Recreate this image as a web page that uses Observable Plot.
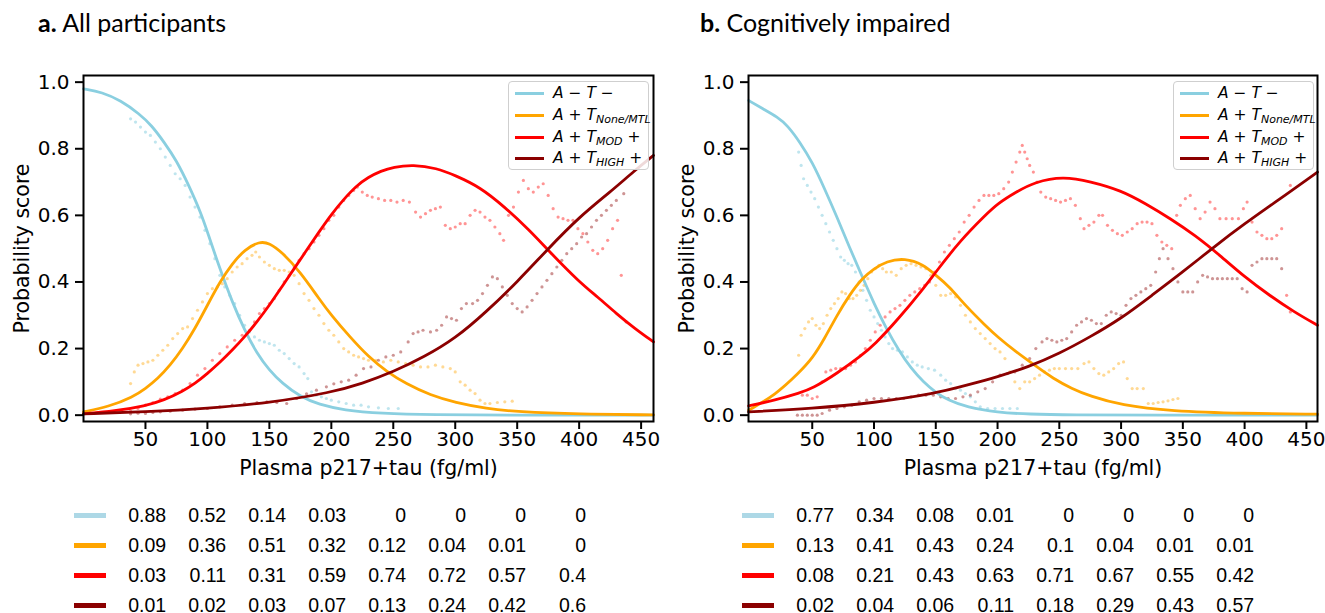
<!DOCTYPE html>
<html><head><meta charset="utf-8">
<script src="https://cdn.jsdelivr.net/npm/d3@7"></script>
<script src="https://cdn.jsdelivr.net/npm/@observablehq/plot@0.6"></script>
<style>
body{margin:0;background:#fff;width:1325px;height:613px;position:relative;overflow:hidden;font-family:"DejaVu Sans";}
.abs{position:absolute;}
.title{position:absolute;font-family:Lato;font-size:25px;line-height:1;color:#000;white-space:nowrap;}
.legend{position:absolute;border:1px solid #cfcfcf;border-radius:4px;background:rgba(255,255,255,0.85);font-family:"DejaVu Sans";font-style:italic;font-size:15.5px;color:#000;box-sizing:border-box;}
.legend .row{position:absolute;left:0;height:20px;line-height:20px;white-space:nowrap;}
.legend .ln{position:absolute;left:6px;top:9px;width:29px;height:3px;}
.legend .tx{position:absolute;left:44px;top:0;}
.legend sub{font-size:11px;vertical-align:-3px;line-height:0;}
</style></head><body>
<script>
// ---------- data ----------
const xTicks = [50, 100, 150, 200, 250, 300, 350, 400, 450];
const yTicks = [0, 0.2, 0.4, 0.6, 0.8, 1.0];
const xLabel = "Plasma p217+tau (fg/ml)";
const yLabel = "Probability score";
const seriesNames = ["A−T−", "A+T None/MTL", "A+T MOD +", "A+T HIGH +"];
const curveColors = ["#8acfe0", "#ffa500", "#ff0000", "#8b0000"];
const swatchColors = ["#add8e6", "#ffa500", "#ff0000", "#8b0000"];
const legendMain = ["A − T −", "A + T", "A + T", "A + T"];
const legendSub = ["", "None/MTL", "MOD", "HIGH"];
const legendTail = ["", "", " +", " +"];
const tableCols = ["", "50", "100", "150", "200", "250", "300", "350", "400"];

// panel a: smooth model curves [x, probability]
const aNeg = [[0,0.98],[15,0.97],[30,0.945],[45,0.905],[55,0.87],[65,0.82],[75,0.765],[85,0.69],[95,0.605],[100,0.55],[110,0.44],[120,0.34],[130,0.255],[140,0.185],[150,0.135],[160,0.097],[175,0.055],[190,0.032],[210,0.015],[240,0.005],[280,0.001],[350,0],[460,0]];
const aMtl = [[0,0.01],[20,0.025],[40,0.055],[50,0.08],[60,0.11],[70,0.15],[80,0.2],[90,0.26],[100,0.33],[110,0.4],[120,0.455],[130,0.497],[142,0.522],[150,0.517],[160,0.49],[175,0.43],[190,0.35],[200,0.3],[215,0.235],[230,0.175],[245,0.13],[260,0.095],[280,0.06],[300,0.038],[325,0.02],[350,0.01],[400,0.003],[460,0.001]];
const aMod = [[0,0.004],[25,0.012],[50,0.028],[65,0.045],[80,0.072],[90,0.095],[100,0.125],[110,0.158],[120,0.195],[130,0.235],[140,0.28],[150,0.33],[160,0.385],[170,0.44],[180,0.495],[190,0.55],[200,0.603],[210,0.648],[220,0.688],[230,0.715],[240,0.733],[250,0.745],[266,0.752],[285,0.742],[300,0.72],[320,0.685],[340,0.625],[360,0.555],[375,0.495],[400,0.4],[415,0.355],[430,0.305],[445,0.26],[460,0.22]];
const aHigh = [[0,0.004],[50,0.01],[100,0.02],[150,0.037],[200,0.068],[225,0.095],[250,0.13],[275,0.175],[300,0.23],[325,0.31],[350,0.4],[375,0.5],[400,0.595],[425,0.67],[445,0.735],[460,0.78]];

// panel a: empirical (noisy) estimates
const aNegPts = [[38,0.89],[42,0.88],[46,0.865],[50,0.85],[54,0.84],[58,0.82],[62,0.8],[66,0.775],[70,0.75],[74,0.725],[78,0.71],[82,0.69],[86,0.655],[90,0.625],[94,0.595],[98,0.555],[102,0.515],[106,0.47],[110,0.42],[114,0.385],[118,0.36],[122,0.335],[126,0.3],[130,0.27],[134,0.25],[138,0.235],[142,0.225],[146,0.22],[150,0.215],[154,0.21],[158,0.195],[162,0.185],[166,0.17],[170,0.155],[174,0.145],[178,0.125],[181,0.11],[184,0.07],[188,0.06],[192,0.055],[196,0.05],[200,0.045],[206,0.04],[212,0.035],[218,0.03],[224,0.03],[230,0.025],[238,0.022],[246,0.02],[254,0.02]];
const aMtlPts = [[38,0.095],[41,0.13],[44,0.15],[48,0.155],[52,0.16],[56,0.165],[60,0.18],[64,0.195],[68,0.21],[72,0.23],[76,0.245],[80,0.26],[84,0.265],[88,0.29],[92,0.315],[96,0.34],[100,0.365],[104,0.38],[108,0.385],[112,0.395],[116,0.41],[120,0.43],[124,0.445],[128,0.455],[132,0.47],[136,0.48],[139,0.49],[142,0.475],[146,0.46],[150,0.45],[154,0.44],[158,0.435],[162,0.435],[166,0.43],[170,0.42],[174,0.395],[178,0.365],[182,0.345],[186,0.32],[190,0.3],[194,0.275],[198,0.255],[202,0.24],[206,0.22],[210,0.2],[214,0.19],[218,0.18],[222,0.175],[226,0.17],[230,0.165],[236,0.165],[242,0.16],[248,0.165],[254,0.16],[260,0.155],[266,0.15],[272,0.145],[278,0.145],[284,0.15],[290,0.145],[296,0.14],[300,0.13],[304,0.1],[308,0.09],[312,0.075],[316,0.065],[320,0.045],[324,0.035],[328,0.035],[334,0.038],[340,0.04],[346,0.042]];
const aModPts = [[38,0.012],[44,0.02],[50,0.03],[56,0.038],[62,0.048],[68,0.055],[74,0.065],[80,0.075],[86,0.095],[92,0.12],[98,0.14],[104,0.165],[110,0.185],[116,0.205],[122,0.225],[128,0.24],[134,0.255],[138,0.28],[142,0.305],[146,0.32],[150,0.335],[154,0.35],[158,0.375],[162,0.4],[166,0.42],[170,0.445],[174,0.465],[178,0.485],[182,0.5],[186,0.52],[190,0.54],[194,0.56],[198,0.585],[202,0.6],[206,0.625],[210,0.645],[214,0.66],[218,0.675],[221,0.685],[225,0.67],[229,0.66],[233,0.655],[238,0.65],[243,0.645],[248,0.645],[253,0.64],[258,0.645],[263,0.64],[268,0.61],[272,0.595],[276,0.605],[280,0.615],[284,0.62],[288,0.625],[292,0.57],[296,0.56],[300,0.565],[304,0.575],[308,0.575],[312,0.6],[316,0.615],[320,0.61],[324,0.595],[328,0.585],[332,0.565],[336,0.545],[339,0.525],[343,0.6],[347,0.625],[351,0.67],[355,0.705],[359,0.68],[363,0.67],[367,0.685],[371,0.695],[375,0.66],[379,0.62],[383,0.595],[387,0.59],[391,0.585],[395,0.585],[399,0.56],[403,0.545],[407,0.52],[411,0.495],[415,0.485],[419,0.5],[423,0.525],[427,0.56],[431,0.585],[434,0.42],[438,0.28]];
const aHighPts = [[38,0.004],[44,0.006],[50,0.005],[56,0.008],[62,0.01],[70,0.012],[80,0.015],[90,0.018],[100,0.02],[110,0.025],[120,0.03],[130,0.035],[140,0.038],[148,0.04],[156,0.038],[164,0.035],[172,0.05],[180,0.064],[188,0.075],[196,0.085],[202,0.094],[208,0.1],[214,0.105],[220,0.12],[226,0.14],[232,0.145],[238,0.165],[244,0.175],[250,0.18],[256,0.19],[262,0.22],[266,0.245],[270,0.25],[274,0.255],[280,0.25],[285,0.255],[289,0.27],[293,0.295],[297,0.29],[301,0.285],[305,0.32],[309,0.335],[314,0.335],[318,0.345],[322,0.365],[326,0.39],[330,0.415],[334,0.41],[338,0.385],[342,0.36],[346,0.335],[350,0.32],[354,0.31],[358,0.325],[362,0.345],[366,0.365],[370,0.385],[374,0.405],[378,0.425],[382,0.445],[386,0.465],[390,0.485],[394,0.5],[398,0.515],[402,0.535],[406,0.545],[410,0.565],[414,0.585],[418,0.6],[422,0.615],[426,0.63],[430,0.645],[436,0.665]];

// panel b: smooth model curves
const bNeg = [[-1.5,0.945],[10,0.92],[22,0.895],[30,0.87],[40,0.82],[50,0.76],[60,0.68],[70,0.595],[80,0.505],[90,0.42],[100,0.335],[110,0.26],[120,0.195],[130,0.14],[140,0.1],[150,0.068],[160,0.045],[175,0.024],[200,0.008],[225,0.003],[260,0.001],[320,0],[459,0]];
const bMtl = [[-1.5,0.015],[20,0.06],[40,0.13],[50,0.17],[60,0.23],[70,0.3],[80,0.36],[90,0.41],[100,0.44],[110,0.462],[125,0.472],[140,0.452],[150,0.42],[160,0.39],[175,0.325],[190,0.27],[200,0.235],[215,0.19],[230,0.15],[245,0.11],[260,0.08],[275,0.057],[300,0.03],[340,0.012],[400,0.005],[459,0.003]];
const bMod = [[-1.5,0.028],[20,0.045],[40,0.067],[50,0.08],[70,0.125],[90,0.18],[100,0.21],[120,0.29],[140,0.38],[150,0.43],[170,0.525],[190,0.6],[200,0.635],[215,0.67],[230,0.7],[253,0.717],[275,0.702],[300,0.675],[320,0.635],[340,0.59],[360,0.54],[380,0.48],[400,0.415],[420,0.36],[440,0.31],[459,0.27]];
const bHigh = [[-1.5,0.01],[50,0.02],[100,0.037],[150,0.065],[175,0.09],[200,0.115],[225,0.145],[250,0.185],[275,0.235],[300,0.29],[325,0.36],[350,0.43],[375,0.505],[400,0.575],[425,0.64],[459,0.73]];

// panel b: empirical (noisy) estimates
const bNegPts = [[39,0.79],[41,0.75],[43,0.71],[46,0.69],[49,0.67],[52,0.65],[55,0.625],[58,0.6],[61,0.575],[64,0.55],[67,0.525],[70,0.5],[73,0.475],[76,0.465],[79,0.455],[82,0.45],[85,0.43],[88,0.4],[91,0.375],[94,0.345],[97,0.315],[100,0.295],[103,0.275],[106,0.255],[109,0.235],[112,0.215],[115,0.2],[119,0.195],[123,0.19],[127,0.175],[131,0.16],[135,0.15],[139,0.145],[144,0.14],[149,0.135],[154,0.12],[158,0.105],[162,0.095],[166,0.08],[170,0.075],[174,0.065],[178,0.055],[182,0.04],[186,0.025],[192,0.02],[198,0.02],[204,0.02],[210,0.02],[216,0.02]];
const bMtlPts = [[39,0.18],[41,0.24],[44,0.26],[47,0.28],[50,0.29],[53,0.27],[56,0.26],[59,0.275],[62,0.3],[65,0.32],[68,0.335],[71,0.35],[74,0.37],[77,0.365],[80,0.35],[83,0.35],[86,0.36],[89,0.375],[92,0.39],[95,0.41],[98,0.43],[101,0.44],[104,0.45],[107,0.44],[110,0.43],[114,0.43],[118,0.42],[122,0.44],[126,0.45],[130,0.455],[134,0.45],[138,0.445],[142,0.44],[146,0.42],[150,0.39],[154,0.36],[158,0.36],[162,0.365],[166,0.355],[170,0.33],[174,0.3],[178,0.28],[182,0.26],[186,0.245],[190,0.23],[194,0.215],[198,0.2],[202,0.19],[206,0.17],[210,0.13],[214,0.1],[218,0.08],[222,0.1],[226,0.1],[230,0.11],[234,0.12],[238,0.13],[242,0.135],[246,0.14],[250,0.14],[255,0.14],[260,0.14],[265,0.14],[270,0.155],[274,0.16],[278,0.14],[282,0.125],[286,0.12],[290,0.13],[294,0.14],[298,0.155],[302,0.16],[305,0.11],[309,0.08],[313,0.08],[318,0.08],[322,0.035],[326,0.035],[330,0.038],[334,0.04],[338,0.043],[342,0.047],[346,0.05]];
const bModPts = [[42,0.06],[46,0.06],[50,0.05],[54,0.055],[58,0.1],[61,0.13],[65,0.135],[69,0.14],[73,0.14],[77,0.14],[81,0.15],[85,0.16],[89,0.18],[93,0.2],[97,0.225],[101,0.25],[105,0.27],[109,0.295],[113,0.31],[117,0.32],[121,0.33],[125,0.345],[129,0.36],[133,0.37],[137,0.38],[141,0.39],[145,0.4],[149,0.43],[153,0.46],[157,0.49],[161,0.51],[165,0.53],[169,0.55],[173,0.58],[177,0.6],[181,0.625],[185,0.645],[189,0.66],[193,0.66],[197,0.66],[201,0.665],[205,0.68],[209,0.7],[212,0.73],[215,0.76],[218,0.79],[220,0.81],[222,0.79],[224,0.77],[226,0.75],[229,0.73],[232,0.7],[235,0.67],[239,0.655],[243,0.65],[247,0.645],[251,0.64],[255,0.645],[259,0.65],[263,0.63],[267,0.59],[270,0.56],[274,0.57],[278,0.58],[282,0.6],[285,0.6],[289,0.57],[293,0.555],[297,0.545],[301,0.54],[305,0.55],[309,0.56],[313,0.575],[317,0.58],[321,0.58],[325,0.575],[329,0.54],[333,0.52],[337,0.51],[341,0.5],[345,0.6],[348,0.63],[352,0.65],[356,0.66],[360,0.62],[364,0.59],[368,0.61],[372,0.64],[376,0.62],[380,0.59],[385,0.59],[390,0.59],[395,0.59],[399,0.62],[402,0.64],[406,0.58],[410,0.55],[414,0.54],[418,0.53],[422,0.53],[426,0.54],[430,0.56],[434,0.36],[437,0.31],[437,0.69]];
const bHighPts = [[38,0],[42,0],[46,0],[50,0],[54,0],[58,0.005],[64,0.015],[70,0.02],[76,0.025],[82,0.03],[88,0.04],[94,0.045],[100,0.05],[106,0.05],[112,0.05],[118,0.05],[124,0.05],[130,0.055],[136,0.06],[142,0.06],[148,0.06],[154,0.055],[160,0.05],[166,0.05],[172,0.055],[178,0.06],[184,0.07],[190,0.08],[196,0.1],[202,0.12],[208,0.125],[214,0.13],[220,0.15],[226,0.17],[231,0.2],[236,0.22],[240,0.23],[244,0.225],[248,0.22],[252,0.225],[256,0.23],[260,0.25],[264,0.27],[268,0.28],[272,0.29],[276,0.285],[280,0.275],[284,0.275],[288,0.3],[292,0.31],[296,0.305],[300,0.3],[304,0.33],[308,0.35],[312,0.36],[316,0.37],[320,0.38],[324,0.39],[328,0.43],[331,0.47],[334,0.5],[338,0.47],[342,0.44],[346,0.4],[350,0.37],[354,0.37],[358,0.37],[362,0.4],[366,0.42],[370,0.415],[374,0.41],[378,0.41],[382,0.41],[386,0.41],[390,0.41],[394,0.41],[398,0.38],[402,0.37],[406,0.45],[410,0.46],[414,0.47],[418,0.47],[422,0.47],[426,0.47],[430,0.44]];

// tables (probabilities at 50..400 fg/ml)
const tabANeg = [0.88, 0.52, 0.14, 0.03, 0, 0, 0, 0];
const tabAMtl = [0.09, 0.36, 0.51, 0.32, 0.12, 0.04, 0.01, 0];
const tabAMod = [0.03, 0.11, 0.31, 0.59, 0.74, 0.72, 0.57, 0.4];
const tabAHigh = [0.01, 0.02, 0.03, 0.07, 0.13, 0.24, 0.42, 0.6];
const tabBNeg = [0.77, 0.34, 0.08, 0.01, 0, 0, 0, 0];
const tabBMtl = [0.13, 0.41, 0.43, 0.24, 0.1, 0.04, 0.01, 0.01];
const tabBMod = [0.08, 0.21, 0.43, 0.63, 0.71, 0.67, 0.55, 0.42];
const tabBHigh = [0.02, 0.04, 0.06, 0.11, 0.18, 0.29, 0.43, 0.57];

// ---------- drawing ----------
function place(node, left, top) {
  const d = document.createElement("div");
  d.className = "abs"; d.style.left = left + "px"; d.style.top = top + "px";
  d.appendChild(node); document.body.appendChild(d);
}

function panel(curves, pts, xdom, width, marginRight) {
  return Plot.plot({
    width, height: 500,
    marginLeft: 83, marginRight, marginTop: 75, marginBottom: 79,
    style: {fontFamily: "DejaVu Sans", fontSize: "20px", color: "black", background: "transparent", overflow: "visible"},
    x: {domain: xdom},
    y: {domain: [-0.019, 1.02]},
    marks: [
      ...pts.map((p, i) => Plot.dot(p, {x: d => d[0], y: d => d[1], r: 1.6, fill: curveColors[i], fillOpacity: i === 0 ? 0.55 : 0.42, stroke: "none"})),
      ...curves.map((c, i) => Plot.line(c, {x: d => d[0], y: d => d[1], stroke: curveColors[i], strokeWidth: 2.8, curve: "basis"})),
      Plot.frame({stroke: "black", strokeWidth: 2}),
      Plot.axisX(xTicks, {tickSize: 8, tickPadding: 2, strokeWidth: 2, label: null, fontSize: 20}),
      Plot.axisY(yTicks, {tickSize: 8, tickPadding: 6, strokeWidth: 2, label: null, fontSize: 20, tickFormat: d3.format(".1f")}),
      Plot.text([xLabel], {text: d => d, frameAnchor: "bottom", lineAnchor: "middle", textAnchor: "middle", dy: 47, fontSize: 20.5}),
      Plot.text([yLabel], {text: d => d, frameAnchor: "left", lineAnchor: "middle", textAnchor: "middle", dx: -61, rotate: -90, fontSize: 20.5})
    ]
  });
}

function table(rows, width, marginLeft) {
  const cells = rows.flatMap((vals, r) => vals.map((v, j) => ({row: r, col: tableCols[j + 1], text: String(v)})));
  return Plot.plot({
    width, height: 123, marginLeft, marginRight: width - marginLeft - 515.2, marginTop: 24, marginBottom: 9,
    style: {background: "transparent", overflow: "visible"},
    x: {type: "band", domain: tableCols, paddingInner: 0.47, paddingOuter: 0, axis: null},
    y: {type: "point", domain: [0, 1, 2, 3], padding: 0, axis: null},
    marks: [
      ...rows.map((_, r) => Plot.tickY([r], {x: () => "", y: d => d, stroke: swatchColors[r], strokeWidth: 5})),
      Plot.text(cells, {x: "col", y: "row", text: "text", textAnchor: "end", dx: 15.6, fontSize: 19.5, fontFamily: "Liberation Sans", fill: "black"})
    ]
  });
}

function legend(left, top) {
  const box = document.createElement("div");
  box.className = "legend";
  box.style.left = left + "px"; box.style.top = top + "px";
  box.style.width = "141px"; box.style.height = "89px";
  const rowTops = [1, 23, 45, 66];
  seriesNames.forEach((name, i) => {
    const row = document.createElement("div");
    row.className = "row"; row.style.top = rowTops[i] + "px"; row.style.width = "139px";
    row.title = name;
    const ln = document.createElement("div");
    ln.className = "ln"; ln.style.background = curveColors[i];
    const tx = document.createElement("div");
    tx.className = "tx";
    tx.innerHTML = legendMain[i] + (legendSub[i] ? "<sub>" + legendSub[i] + "</sub>" : "") + legendTail[i];
    row.appendChild(ln); row.appendChild(tx); box.appendChild(row);
  });
  document.body.appendChild(box);
}

function title(bold, rest, left) {
  const t = document.createElement("div");
  t.className = "title"; t.style.left = left + "px"; t.style.top = "10px";
  const b = document.createElement("b"); b.textContent = bold;
  t.appendChild(b); t.appendChild(document.createTextNode(" " + rest));
  document.body.appendChild(t);
}

title("a.", "All participants", 38);
title("b.", "Cognitively impaired", 700);

place(panel([aNeg, aMtl, aMod, aHigh], [aNegPts, aMtlPts, aModPts, aHighPts], [0, 460], 680, 27), 0, 0);
place(panel([bNeg, bMtl, bMod, bHigh], [bNegPts, bMtlPts, bModPts, bHighPts], [-1.6, 459], 660, 8), 665, 0);

legend(508, 81);
legend(1173, 81);

place(table([tabANeg, tabAMtl, tabAMod, tabAHigh], 620, 72), 0, 490.5);
place(table([tabBNeg, tabBMtl, tabBMod, tabBHigh], 620, 75), 665, 490.5);
</script>
</body></html>
